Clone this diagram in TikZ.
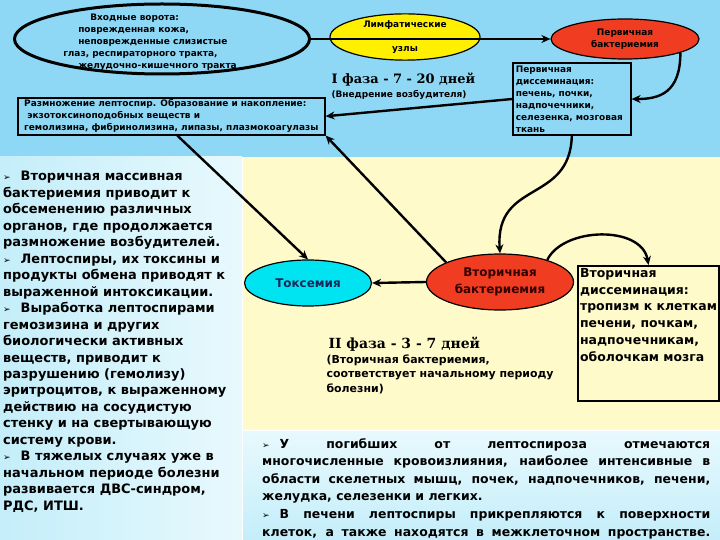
\documentclass[tikz,border=0pt]{standalone}
\usepackage{fontspec}
\setmainfont{DejaVu Sans}
\newfontfamily\phasefont{DejaVu Serif}
\usetikzlibrary{shapes.geometric,arrows.meta}
\definecolor{skyback}{RGB}{142,216,246}
\definecolor{paleyellow}{RGB}{255,250,202}
\definecolor{panelcyan}{RGB}{196,238,250}
\definecolor{panelwhite}{RGB}{232,249,253}
\definecolor{bacred}{RGB}{240,60,32}
\definecolor{lymphyellow}{RGB}{255,240,0}
\definecolor{toxcyan}{RGB}{0,228,242}
\definecolor{navytext}{RGB}{20,40,90}
\newcommand{\bul}{{\fontsize{9}{9}\selectfont ➢}\hspace{10bp}}
\newcommand{\tinybold}{\fontsize{9}{12}\selectfont\bfseries}
\newcommand{\notebold}{\fontsize{13}{16.55}\selectfont\bfseries}
\tikzset{
  oval/.style={ellipse,draw=black,line width=1.2bp,inner sep=0pt,align=center},
  infobox/.style={draw=black,inner sep=3bp,align=left,anchor=north west},
  link/.style={line width=2.4bp,-{Stealth[length=9bp,width=8bp]}}
}
\begin{document}
\begin{tikzpicture}[x=1bp,y=-1bp]
\useasboundingbox (0,0) rectangle (720,540);
\fill[skyback] (0,0) rectangle (720,540);
\fill[paleyellow] (242,157) rectangle (720,430);
\shade[left color=panelcyan,right color=panelwhite] (0,157) rectangle (242,540);
\shade[top color=panelwhite,bottom color=panelcyan] (242,430) rectangle (720,540);
\draw[white,line width=1bp] (242,157) -- (242,540) (242,430) -- (720,430);

\node[oval,fill=skyback,line width=3bp,minimum width=295bp,minimum height=70bp] (gate) at (162,39) {};
\node[align=left,font=\tinybold] (gatetext) at (150,42) {\hspace*{27bp}Входные ворота:\\
\hspace*{15bp}поврежденная кожа,\\
\hspace*{15bp}неповрежденные слизистые\\
глаз, респираторного тракта,\\
\hspace*{15bp}желудочно-кишечного тракта};
\node[oval,fill=lymphyellow,minimum width=150bp,minimum height=40bp,font=\tinybold] (lymph) at (405,37) {Лимфатические\\[12bp]узлы};
\node[oval,fill=bacred,minimum width=148bp,minimum height=40bp,font=\tinybold] (prim) at (625,39) {Первичная\\бактериемия};
\node[infobox,fill=skyback,line width=1.6bp,text width=112bp,font=\tinybold] (primdiss) at (512,62) {Первичная\\диссеминация:\\печень, почки,\\надпочечники,\\селезенка, мозговая\\ткань\\[-3bp]};
\node[infobox,fill=skyback,line width=1.6bp,minimum width=307bp,inner sep=2bp,font=\tinybold] (repro) at (17,97) {Размножение лептоспир. Образование и накопление:\\
\ экзотоксиноподобных веществ и\\
гемолизина, фибринолизина, липазы, плазмокоагулазы};
\node[anchor=west,font=\phasefont\fontsize{13}{16}\selectfont\bfseries] (phaseone) at (328,80) {I фаза - 7 - 20 дней};
\node[anchor=west,font=\fontsize{9}{11}\selectfont\bfseries] (phaseonesub) at (328,95) {(Внедрение возбудителя)};

\node[oval,fill=toxcyan,minimum width=127bp,minimum height=46bp,text=navytext,font=\fontsize{12}{14}\selectfont\bfseries] (tox) at (308,283) {Токсемия};
\node[oval,fill=bacred,minimum width=147bp,minimum height=56bp,text=black!80!red,font=\fontsize{12}{17}\selectfont\bfseries] (sec) at (500,282) {Вторичная\\бактериемия};
\node[infobox,fill=paleyellow,line width=2bp,minimum width=141bp,inner sep=2bp,font=\fontsize{12.5}{17}\selectfont\bfseries] (secdiss) at (577,265) {Вторичная\\диссеминация:\\тропизм к клеткам\\печени, почкам,\\надпочечникам,\\оболочкам мозга\\[20bp]\mbox{}};
\node[anchor=west,font=\phasefont\fontsize{14}{16}\selectfont\bfseries] (phasetwo) at (325,344) {II фаза - 3 - 7 дней};
\node[anchor=north west,align=left,font=\fontsize{11}{14.5}\selectfont\bfseries] (phasetwosub) at (323,351) {(Вторичная бактериемия,\\соответствует начальному периоду\\болезни)};

\node[anchor=north west,align=left,inner sep=0pt,font=\notebold] (leftnote) at (3,171) {%
\bul Вторичная массивная\\
бактериемия приводит к\\
обсеменению различных\\
органов, где продолжается\\
размножение возбудителей.\\
\bul Лептоспиры, их токсины и\\
продукты обмена приводят к\\
выраженной интоксикации.\\
\bul Выработка лептоспирами\\
гемозизина и других\\
биологически активных\\
веществ, приводит к\\
разрушению (гемолизу)\\
эритроцитов, к выраженному\\
действию на сосудистую\\
стенку и на свертывающую\\
систему крови.\\
\bul В тяжелых случаях уже в\\
начальном периоде болезни\\
развивается ДВС-синдром,\\
РДС, ИТШ.};
\node[anchor=north west,align=left,inner sep=0pt,font=\fontsize{12.5}{17.7}\selectfont\bfseries] (bottomnote) at (262,438) {%
\makebox[448bp][s]{\bul У погибших от лептоспироза отмечаются}\\
\makebox[448bp][s]{многочисленные кровоизлияния, наиболее интенсивные в}\\
\makebox[448bp][s]{области скелетных мышц, почек, надпочечников, печени,}\\
желудка, селезенки и легких.\\
\makebox[448bp][s]{\bul В печени лептоспиры прикрепляются к поверхности}\\
\makebox[448bp][s]{клеток, а также находятся в межклеточном пространстве.}};

\draw[link] (gate.east) -- (prim.west);
\draw[link] (prim.-14) .. controls +(0,40) and +(28,0) .. (primdiss.east);
\draw[link] (primdiss.west) -- (repro.east);
\draw[link] ([xshift=6bp]repro.south) -- (tox.north);
\draw[link] (sec.160) -- (repro.south east);
\draw[link] (primdiss.south) .. controls +(-2,68) and +(-5,-74) .. (sec.north);
\draw[link] (sec.west) -- (tox.east);
\draw[link] (sec.25) .. controls +(16,-33) and +(-7,-40) .. (secdiss.north);
\end{tikzpicture}
\end{document}
